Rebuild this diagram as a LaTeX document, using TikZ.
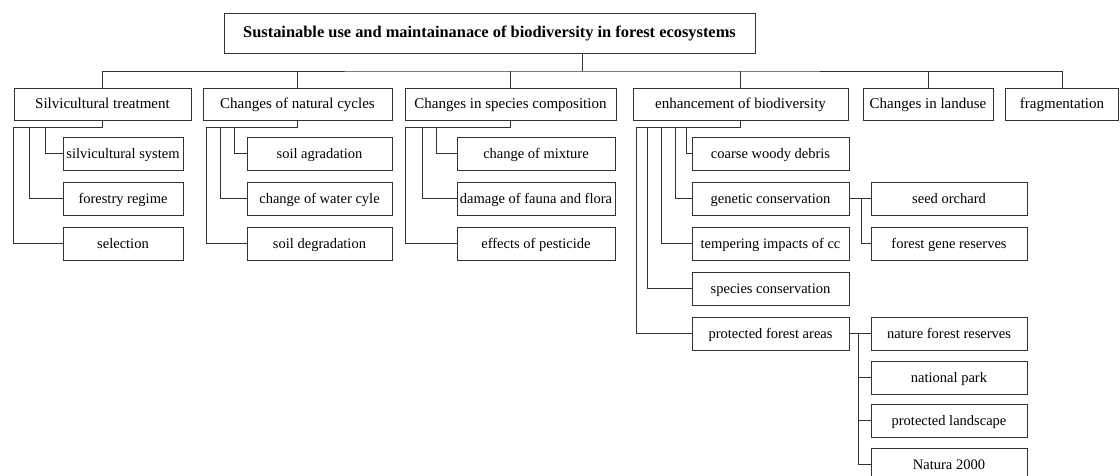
\documentclass[tikz,border=0pt]{standalone}
\usepackage{fontspec}
\setmainfont{Liberation Serif}
\usepackage{tikz}
\usetikzlibrary{calc}

\begin{document}
\begin{tikzpicture}[x=1pt,y=-1pt,
   every node/.style={draw=black!80,line width=1pt,rectangle,inner sep=0pt,
      text height=11pt,text depth=2pt,font=\fontsize{14.5}{16}\selectfont},
   topbox/.style={minimum width=#1,minimum height=32,font=\fontsize{15}{17}\selectfont},
   kidbox/.style={minimum width=#1,minimum height=33},
   link/.style={draw=black!80,line width=1pt}]
\useasboundingbox (0,0) rectangle (1120,475);
\node[minimum width=531,minimum height=40,text height=12pt,text depth=2.5pt,
   font=\fontsize{16.4}{18}\selectfont\bfseries] (root) at (489.5,33)
   {Sustainable use and maintainanace of biodiversity in forest ecosystems};
\coordinate (bus) at (582,71);
\node[topbox=177] (silv) at (102.5,104) {Silvicultural treatment};
\node[topbox=189] (nat) at (297.5,104) {Changes of natural cycles};
\node[topbox=211] (spec) at (510.5,104) {Changes in species composition};
\node[topbox=215] (enh) at (740.5,104) {enhancement of biodiversity};
\node[topbox=130] (land) at (928,104) {Changes in landuse};
\node[topbox=113] (frag) at (1062,104) {fragmentation};

\node[kidbox=120] (sys) at (123,153.5) {silvicultural system};
\node[kidbox=120] (reg) at (123,198.5) {forestry regime};
\node[kidbox=120] (sel) at (123,243.5) {selection};

\node[kidbox=145] (agr) at (319.5,153.5) {soil agradation};
\node[kidbox=145] (wat) at (319.5,198.5) {change of water cyle};
\node[kidbox=145] (deg) at (319.5,243.5) {soil degradation};

\node[kidbox=158] (mix) at (536,153.5) {change of mixture};
\node[kidbox=158] (dam) at (536,198.5) {damage of fauna and flora};
\node[kidbox=158] (pest) at (536,243.5) {effects of pesticide};

\node[kidbox=157] (cwd) at (770.5,153.5) {coarse woody debris};
\node[kidbox=157] (gen) at (770.5,198.5) {genetic conservation};
\node[kidbox=157] (temp) at (770.5,243.5) {tempering impacts of cc};
\node[kidbox=157] (spc) at (770.5,288.5) {species conservation};
\node[kidbox=157] (pfa) at (770.5,333.5) {protected forest areas};

\node[kidbox=156] (seed) at (949,198.5) {seed orchard};
\node[kidbox=156] (gres) at (949,243.5) {forest gene reserves};

\node[kidbox=156] (nfr) at (949,333.5) {nature forest reserves};
\node[kidbox=156] (park) at (949,377.5) {national park};
\node[kidbox=156] (land2) at (949,420.5) {protected landscape};
\node[kidbox=156] (nat2k) at (949,464.5) {Natura 2000};

\draw[link] (root.south -| bus) -- (bus);
\draw[link] (silv.north) |- (bus) -| (frag.north);
\draw[link] (nat.north) -- (nat.north |- bus);
\draw[link] (spec.north) -- (spec.north |- bus);
\draw[link] (enh.north) -- (enh.north |- bus);
\draw[link] (land.north) -- (land.north |- bus);

\draw[link] (silv.south) -- ++(0,7) -| ([xshift=-17pt]sys.west) -- (sys.west);
\draw[link] (silv.south) -- ++(0,7) -| ([xshift=-33pt]reg.west) -- (reg.west);
\draw[link] (silv.south) -- ++(0,7) -| ([xshift=-49pt]sel.west) -- (sel.west);

\draw[link] (nat.south) -- ++(0,7) -| ([xshift=-12pt]agr.west) -- (agr.west);
\draw[link] (nat.south) -- ++(0,7) -| ([xshift=-26pt]wat.west) -- (wat.west);
\draw[link] (nat.south) -- ++(0,7) -| ([xshift=-40pt]deg.west) -- (deg.west);

\draw[link] (spec.south) -- ++(0,7) -| ([xshift=-20pt]mix.west) -- (mix.west);
\draw[link] (spec.south) -- ++(0,7) -| ([xshift=-34pt]dam.west) -- (dam.west);
\draw[link] (spec.south) -- ++(0,7) -| ([xshift=-51pt]pest.west) -- (pest.west);

\draw[link] (enh.south) -- ++(0,7) -| ([xshift=-5pt]cwd.west) -- (cwd.west);
\draw[link] (enh.south) -- ++(0,7) -| ([xshift=-16pt]gen.west) -- (gen.west);
\draw[link] (enh.south) -- ++(0,7) -| ([xshift=-30pt]temp.west) -- (temp.west);
\draw[link] (enh.south) -- ++(0,7) -| ([xshift=-44pt]spc.west) -- (spc.west);
\draw[link] (enh.south) -- ++(0,7) -| ([xshift=-55pt]pfa.west) -- (pfa.west);

\draw[link] (gen.east) -- ++(12,0) |- (seed.west);
\draw[link] (gen.east) -- ++(12,0) |- (gres.west);

\draw[link] (pfa.east) -- ++(9,0) |- (nfr.west);
\draw[link] (pfa.east) -- ++(9,0) |- (park.west);
\draw[link] (pfa.east) -- ++(9,0) |- (land2.west);
\draw[link] (pfa.east) -- ++(9,0) |- (nat2k.west);
\end{tikzpicture}
\end{document}
